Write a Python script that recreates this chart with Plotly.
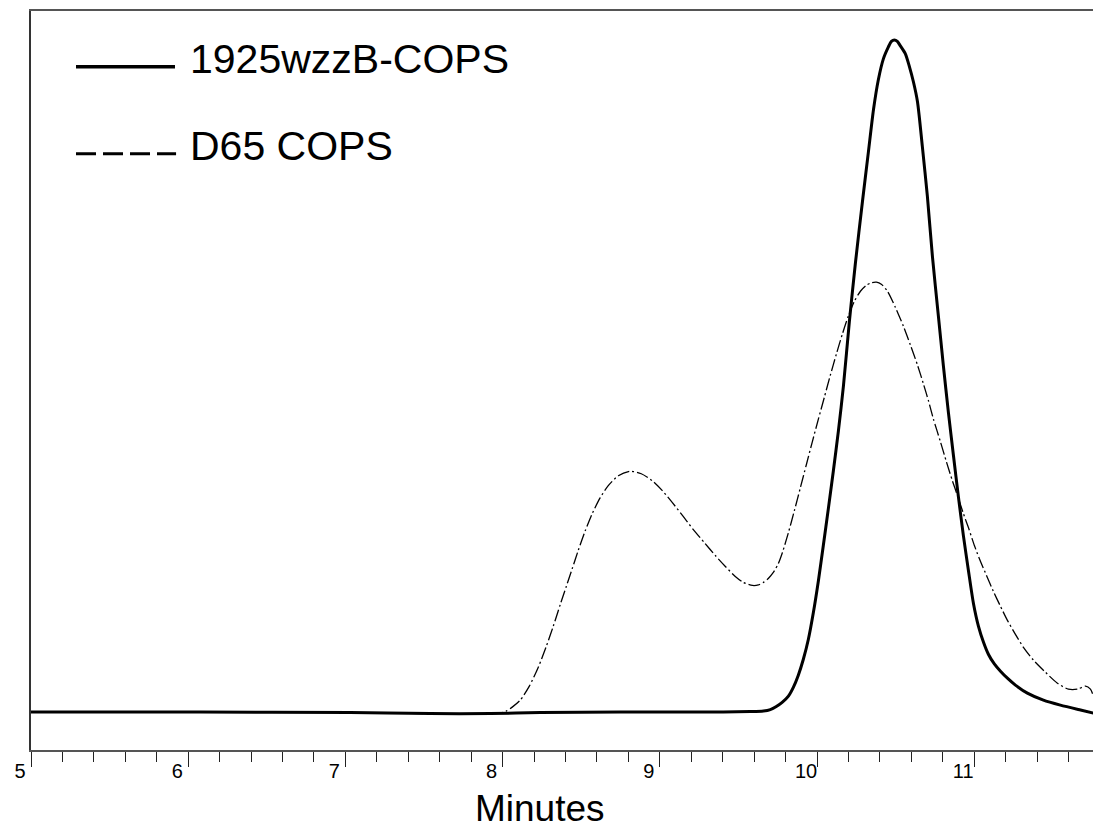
import plotly.graph_objects as go

# ---- data ----
solid_name = "1925wzzB-COPS"
dashed_name = "D65 COPS"

solid_x = [5.000, 6.076, 7.031, 7.540, 7.922, 8.240, 8.749, 9.258, 9.576, 9.659, 9.703, 9.741,
           9.780, 9.818, 9.850, 9.881, 9.913, 9.945, 9.977, 10.009, 10.040, 10.072, 10.104,
           10.136, 10.168, 10.206, 10.244, 10.289, 10.327, 10.359, 10.390, 10.422, 10.454,
           10.473, 10.492, 10.511, 10.530, 10.562, 10.588, 10.613, 10.639, 10.670, 10.702,
           10.734, 10.772, 10.804, 10.836, 10.868, 10.900, 10.931, 10.963, 10.995, 11.027,
           11.059, 11.090, 11.129, 11.167, 11.211, 11.262, 11.338, 11.440, 11.548, 11.676,
           11.784]
solid_y = [0.00, 0.00, -0.07, -0.22, -0.22, -0.07, 0.00, 0.00, 0.07, 0.15, 0.37, 0.82,
           1.48, 2.37, 3.71, 5.49, 7.86, 10.83, 14.84, 19.58, 24.78, 30.27, 35.91,
           41.84, 48.52, 58.16, 66.77, 75.96, 83.38, 89.61, 94.07, 97.18, 98.96,
           99.78, 100.00, 99.78, 99.11, 97.92, 95.99, 93.77, 90.80, 84.12, 76.71,
           67.80, 58.90, 51.48, 44.51, 38.13, 31.90, 26.26, 21.07, 16.17, 12.76,
           10.39, 8.61, 7.12, 6.08, 5.04, 4.01, 2.82, 1.78, 1.04, 0.30,
           -0.30]

dashed_x = [5.000, 6.076, 7.031, 7.540, 7.922, 7.985, 8.023, 8.061, 8.112, 8.170, 8.227, 8.278,
            8.322, 8.367, 8.405, 8.443, 8.481, 8.526, 8.570, 8.621, 8.672, 8.736, 8.812,
            8.882, 8.952, 9.016, 9.080, 9.150, 9.213, 9.283, 9.353, 9.417, 9.480, 9.531,
            9.589, 9.627, 9.659, 9.690, 9.722, 9.754, 9.780, 9.818, 9.856, 9.894, 9.932,
            9.970, 10.009, 10.047, 10.085, 10.123, 10.161, 10.199, 10.238, 10.276, 10.314,
            10.346, 10.378, 10.409, 10.448, 10.498, 10.549, 10.594, 10.639, 10.677, 10.709,
            10.740, 10.785, 10.823, 10.861, 10.900, 10.931, 10.963, 11.001, 11.040, 11.078,
            11.122, 11.167, 11.211, 11.262, 11.313, 11.377, 11.453, 11.529, 11.599, 11.657,
            11.708, 11.739, 11.765]
dashed_y = [0.00, 0.00, -0.07, -0.22, -0.22, -0.15, 0.15, 0.74, 1.78, 3.86, 6.68, 9.79,
            12.76, 16.02, 18.69, 21.36, 24.04, 27.00, 29.53, 31.90, 33.68, 35.16, 35.83,
            35.46, 34.42, 32.94, 31.16, 29.08, 27.15, 25.22, 23.29, 21.66, 20.18, 19.29,
            18.84, 18.92, 19.29, 19.88, 20.77, 22.11, 23.74, 26.71, 29.97, 33.38, 36.80,
            40.21, 43.62, 46.88, 50.15, 53.26, 56.23, 58.90, 61.13, 62.61, 63.50,
            63.87, 63.95, 63.65, 62.61, 60.24, 57.42, 54.60, 51.63, 48.81, 46.29,
            43.62, 40.21, 37.24, 34.42, 31.75, 29.53, 27.45, 24.78, 22.40, 20.33,
            17.95, 15.73, 13.65, 11.57, 9.64, 7.72, 5.93, 4.30, 3.41, 3.41,
            3.86, 3.41, 1.93]

major_ticks = [5, 6, 7, 8, 9, 10, 11]
major_labels = ["5", "6", "7", "8", "9", "10", "11"]
x_title = "Minutes"

FONT = "Liberation Sans, Arial, sans-serif"

fig = go.Figure()
fig.add_trace(go.Scatter(x=dashed_x, y=dashed_y, mode="lines", name=dashed_name,
                         line=dict(color="black", width=1.3, dash="12px,3px,2px,3px",
                                   shape="spline", smoothing=0.7),
                         showlegend=False, hoverinfo="skip"))
fig.add_trace(go.Scatter(x=solid_x, y=solid_y, mode="lines", name=solid_name,
                         line=dict(color="black", width=3, shape="spline", smoothing=0.7),
                         showlegend=False, hoverinfo="skip"))

fig.update_layout(
    width=1093, height=820,
    margin=dict(l=23, r=1, t=1, b=78),
    paper_bgcolor="white", plot_bgcolor="white",
    font=dict(family=FONT, color="black"),
    xaxis=dict(range=[5, 11.8], showgrid=False, zeroline=False,
               showline=True, linecolor="#555555", linewidth=2, mirror=True,
               ticks="outside", ticklen=15, tickwidth=1.2, tickcolor="#222222",
               tickvals=major_ticks, ticktext=major_labels,
               tickfont=dict(size=20, family=FONT, color="black"),
               ticklabelshift=-11, ticklabelstandoff=-13,
               minor=dict(dtick=0.2, tick0=5, ticks="outside", ticklen=10,
                          tickwidth=1.2, tickcolor="#222222", showgrid=False)),
    yaxis=dict(range=[-5.64, 104.3], showgrid=False, zeroline=False,
               showline=True, linecolor="#333333", linewidth=1.5,
               ticks="", showticklabels=False),
    shapes=[
        # right frame edge (light grey)
        dict(type="line", xref="paper", yref="paper", x0=1, x1=1, y0=0, y1=1,
             line=dict(color="#bbbbbb", width=1.5)),
        # legend samples
        dict(type="line", xref="paper", yref="paper", x0=0.0421, x1=0.1347,
             y0=0.9244, y1=0.9244, line=dict(color="black", width=3.5)),
        dict(type="line", xref="paper", yref="paper", x0=0.0421, x1=0.1357,
             y0=0.8070, y1=0.8070, line=dict(color="black", width=3, dash="20px,7px")),
    ],
    annotations=[
        dict(text=solid_name, xref="paper", yref="paper", x=0.147, y=0.9352,
             xanchor="left", yanchor="middle", showarrow=False,
             font=dict(size=41, family=FONT, color="black")),
        dict(text=dashed_name, xref="paper", yref="paper", x=0.147, y=0.8178,
             xanchor="left", yanchor="middle", showarrow=False,
             font=dict(size=41, family=FONT, color="black")),
        dict(text=x_title, xref="paper", yref="paper", x=0.4766, y=-0.0790,
             xanchor="center", yanchor="middle", showarrow=False,
             font=dict(size=37, family=FONT, color="black")),
    ],
)

fig.write_html("out.html")
